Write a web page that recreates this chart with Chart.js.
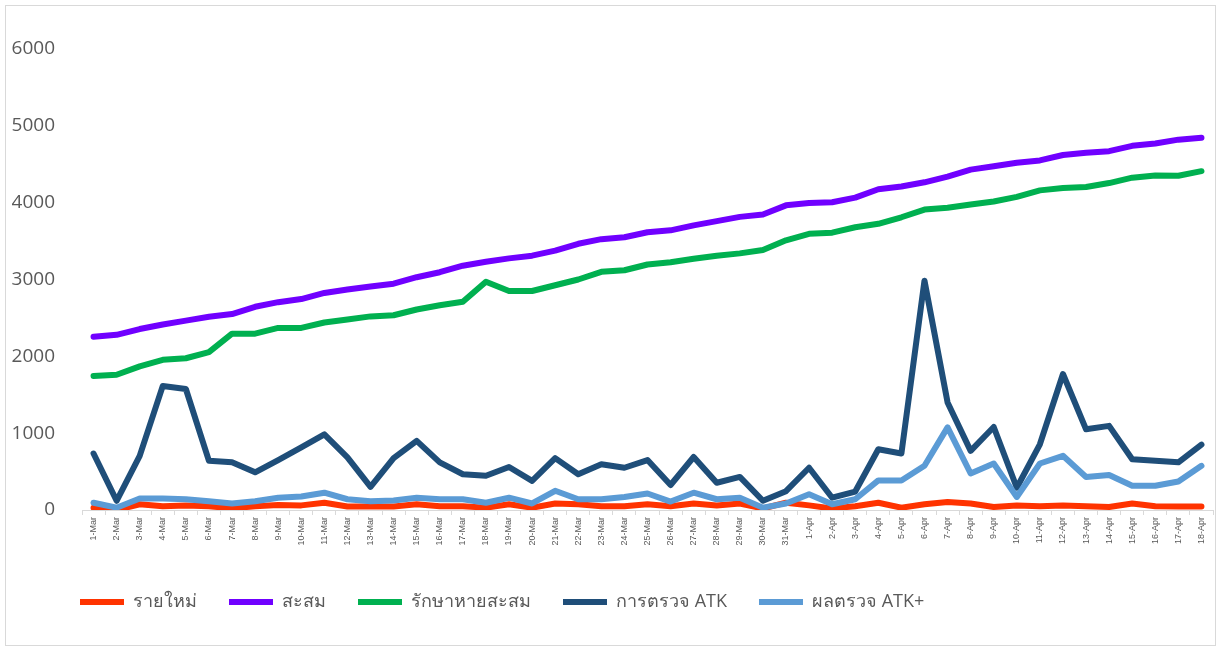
<!DOCTYPE html>
<html>
<head>
<meta charset="utf-8">
<script src="https://cdn.jsdelivr.net/npm/chart.js@4.4.1/dist/chart.umd.min.js"></script>
<style>
  html, body { margin: 0; padding: 0; background: #fff; }
  #frame { position: absolute; left: 5px; top: 5px; width: 1209px; height: 639px; border: 1px solid #d9d9d9; }
  #wrap  { position: absolute; left: 0; top: 0; width: 1221px; height: 651px; }
</style>
</head>
<body>
<div id="frame"></div>
<div id="wrap"><canvas id="covidChart"></canvas></div>
<script>
const labels = [
  '1-Mar','2-Mar','3-Mar','4-Mar','5-Mar','6-Mar','7-Mar','8-Mar','9-Mar','10-Mar',
  '11-Mar','12-Mar','13-Mar','14-Mar','15-Mar','16-Mar','17-Mar','18-Mar','19-Mar','20-Mar',
  '21-Mar','22-Mar','23-Mar','24-Mar','25-Mar','26-Mar','27-Mar','28-Mar','29-Mar','30-Mar',
  '31-Mar',
  '1-Apr','2-Apr','3-Apr','4-Apr','5-Apr','6-Apr','7-Apr','8-Apr','9-Apr','10-Apr',
  '11-Apr','12-Apr','13-Apr','14-Apr','15-Apr','16-Apr','17-Apr','18-Apr'
];

// รายใหม่
const newCases = [
  30, 0, 75, 50, 60, 50, 20, 50, 65, 60,
  95, 45, 45, 45, 75, 50, 50, 30, 75, 30,
  85, 75, 50, 50, 75, 50, 85, 60, 85, 20,
  95,
  60, 20, 50, 95, 30, 75, 105, 85, 40, 60,
  50, 60, 50, 40, 85, 50, 45, 45
];

// สะสม
const cumulative = [
  2255, 2280, 2355, 2415, 2465, 2515, 2550, 2645, 2705, 2745,
  2825, 2870, 2910, 2945, 3030, 3095, 3180, 3230, 3275, 3310,
  3375, 3465, 3525, 3550, 3615, 3640, 3705, 3760, 3815, 3845,
  3965,
  3995, 4005, 4065, 4175, 4210, 4265, 4340, 4430, 4475, 4520,
  4550, 4620, 4650, 4670, 4740, 4770, 4820, 4845
];

// รักษาหายสะสม
const recovered = [
  1745, 1760, 1870, 1955, 1975, 2055, 2295, 2295, 2370, 2370,
  2440, 2480, 2520, 2535, 2610, 2665, 2710, 2970, 2850, 2850,
  2925, 3000, 3100, 3120, 3195, 3225, 3270, 3310, 3340, 3385,
  3510,
  3595, 3610, 3680, 3725, 3810, 3910, 3935, 3975, 4015, 4075,
  4160, 4190, 4205, 4255, 4325, 4355, 4350, 4410
];

// การตรวจ ATK
const atkTests = [
  735, 120, 705, 1615, 1575, 640, 620, 490, 650, 815,
  985, 685, 300, 675, 900, 620, 465, 445, 560, 380,
  675, 465, 595, 550, 650, 325, 690, 355, 430, 120,
  245,
  550, 160, 240, 790, 735, 2985, 1400, 770, 1080, 290,
  855, 1770, 1050, 1095, 660, 640, 620, 850
];

// ผลตรวจ ATK+
const atkPositive = [
  95, 30, 150, 150, 140, 115, 85, 115, 160, 175,
  225, 140, 115, 125, 160, 140, 140, 95, 160, 85,
  250, 140, 140, 170, 215, 110, 225, 140, 160, 30,
  85,
  205, 75, 140, 385, 385, 575, 1075, 475, 605, 170,
  605, 705, 430, 455, 315, 315, 370, 575
];

const FONT = "'Open Sans', 'Noto Sans', sans-serif";
const GREY = '#595959';

function series(label, data, color, order) {
  return {
    label, data, order,
    borderColor: color,
    backgroundColor: color,
    borderWidth: 6,
    borderCapStyle: 'round',
    borderJoinStyle: 'round',
    pointRadius: 0,
    tension: 0,
    fill: false
  };
}

// legend sits further right than the plot's left padding
const legendShift = {
  id: 'legendShift',
  afterLayout(chart) {
    chart.legend.left += 36;
    chart.legend.right += 36;
  }
};

const ctx = document.getElementById('covidChart');

new Chart(ctx, {
  type: 'line',
  plugins: [legendShift],
  data: {
    labels: labels,
    datasets: [
      series('รายใหม่', newCases, '#ff3300', 5),
      series('สะสม', cumulative, '#7000ff', 4),
      series('รักษาหายสะสม', recovered, '#00b050', 3),
      series('การตรวจ ATK', atkTests, '#1f4e79', 2),
      series('ผลตรวจ ATK+', atkPositive, '#5b9bd5', 1)
    ]
  },
  options: {
    responsive: true,
    maintainAspectRatio: false,
    animation: false,
    layout: { padding: { left: 12, right: 8, top: 49, bottom: 30 } },
    plugins: {
      tooltip: { enabled: false },
      legend: {
        position: 'bottom',
        align: 'start',
        labels: {
          usePointStyle: true,
          pointStyle: 'line',
          pointStyleWidth: 44,
          padding: 32,
          color: GREY,
          font: { family: FONT, size: 18 },
          sort: (a, b) => a.datasetIndex - b.datasetIndex
        }
      }
    },
    scales: {
      x: {
        offset: true,
        grid: { display: true, offset: true, drawOnChartArea: false, drawTicks: true, tickLength: 5, color: '#d9d9d9' },
        border: { display: true, color: '#d9d9d9', width: 1 },
        ticks: {
          autoSkip: false, minRotation: 90, maxRotation: 90, padding: 2,
          color: GREY, font: { family: "'Liberation Sans', sans-serif", size: 9 }
        },
        afterFit: s => { s.height = 51; }
      },
      y: {
        min: 0, max: 6000,
        grid: { display: false },
        border: { display: false },
        ticks: {
          stepSize: 1000, padding: 19, color: GREY,
          font: { family: FONT, size: 19 },
          callback: v => String(v)
        },
        afterFit: s => { s.width = 70; }
      }
    }
  }
});
</script>
</body>
</html>
